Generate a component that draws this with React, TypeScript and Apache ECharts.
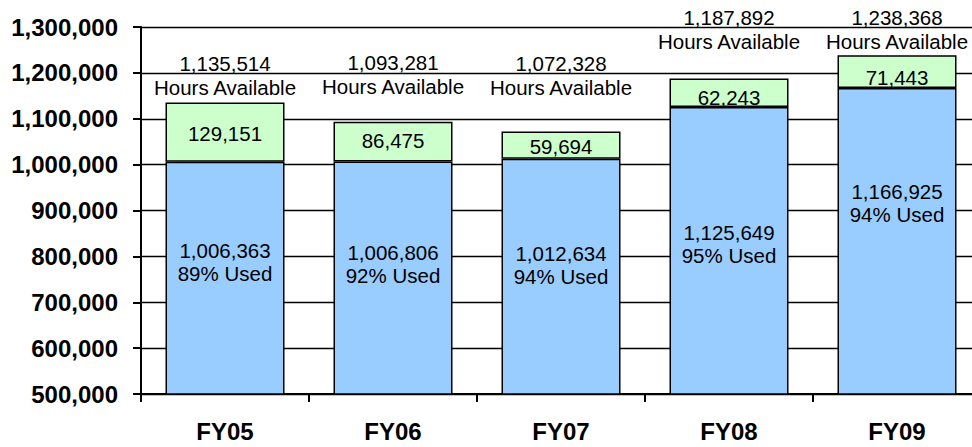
import React, { useEffect, useRef } from "react";
import * as echarts from "echarts";

const categories = ["FY05", "FY06", "FY07", "FY08", "FY09"];
const hoursUsed = [1006363, 1006806, 1012634, 1125649, 1166925];
const hoursUnused = [129151, 86475, 59694, 62243, 71443];
const hoursAvailable = [1135514, 1093281, 1072328, 1187892, 1238368];
const percentUsed = [89, 92, 94, 95, 94];
const yTicks = { min: 500000, max: 1300000, interval: 100000 };

// label placement (style only)
const usedLabelOffsets = [-16, -14, -12, -7, -38];
const unusedLabelOffsets = [1, -1, 1, 5, 6];
const availableLabelOffsets = [-27, -47, -56, -49, -26];

const FONT = 'Arial, "Liberation Sans", sans-serif';
const fmt = (v: number) => v.toLocaleString("en-US");

export default function App() {
  const ref = useRef<HTMLDivElement>(null);
  useEffect(() => {
    if (!ref.current) return;
    const chart = echarts.init(ref.current, null, { renderer: "svg" });
    const labelBase = {
      show: true,
      color: "#000",
      fontFamily: FONT,
      fontSize: 20.5,
      textBorderWidth: 0,
      opacity: 1,
    };
    chart.setOption({
      animation: false,
      backgroundColor: "#fff",
      textStyle: { fontFamily: FONT },
      grid: { left: 141, top: 27, width: 840, height: 367, containLabel: false },
      xAxis: {
        type: "category",
        data: categories,
        axisLine: { lineStyle: { color: "#000", width: 2 } },
        axisTick: { show: true, length: 8, lineStyle: { color: "#000", width: 2 } },
        axisLabel: {
          color: "#000",
          fontFamily: FONT,
          fontWeight: "bold",
          fontSize: 24,
          margin: 25,
        },
      },
      yAxis: {
        type: "value",
        min: yTicks.min,
        max: yTicks.max,
        interval: yTicks.interval,
        axisLine: { show: true, lineStyle: { color: "#000", width: 2 } },
        axisTick: { show: true, length: 8, lineStyle: { color: "#000", width: 2 } },
        splitLine: { show: true, lineStyle: { color: "#000", width: 1.3 } },
        axisLabel: {
          color: "#000",
          fontFamily: FONT,
          fontWeight: "bold",
          fontSize: 24,
          margin: 23,
          formatter: (v: number) => fmt(v),
        },
      },
      series: [
        {
          name: "Used",
          type: "bar",
          stack: "total",
          barWidth: 119,
          itemStyle: { color: "#99CCFF", borderColor: "#000", borderWidth: 1.5 },
          data: hoursUsed.map((v, i) => ({
            value: v,
            label: {
              ...labelBase,
              position: "inside",
              lineHeight: 23,
              offset: [0, usedLabelOffsets[i]],
              formatter: () => `${fmt(v)}\n${percentUsed[i]}% Used`,
            },
          })),
        },
        {
          name: "Unused",
          type: "bar",
          stack: "total",
          barWidth: 119,
          itemStyle: { color: "#CCFFCC", borderColor: "#000", borderWidth: 1.5 },
          data: hoursUnused.map((v, i) => ({
            value: v,
            label: {
              ...labelBase,
              position: "inside",
              offset: [0, unusedLabelOffsets[i]],
              formatter: () => fmt(v),
            },
          })),
        },
        {
          name: "Available",
          type: "scatter",
          symbolSize: 0,
          itemStyle: { color: "#000", opacity: 1 },
          z: 5,
          data: hoursAvailable.map((v, i) => ({
            value: v,
            label: {
              ...labelBase,
              position: "inside",
              lineHeight: 24,
              offset: [0, availableLabelOffsets[i]],
              formatter: () => `${fmt(v)}\nHours Available`,
            },
          })),
        },
      ],
    });
    return () => chart.dispose();
  }, []);
  return (
    <div
      style={{ position: "absolute", left: 0, top: 0, width: 972, height: 447, overflow: "hidden" }}
    >
      <div ref={ref} style={{ width: 1000, height: 447 }} />
    </div>
  );
}
